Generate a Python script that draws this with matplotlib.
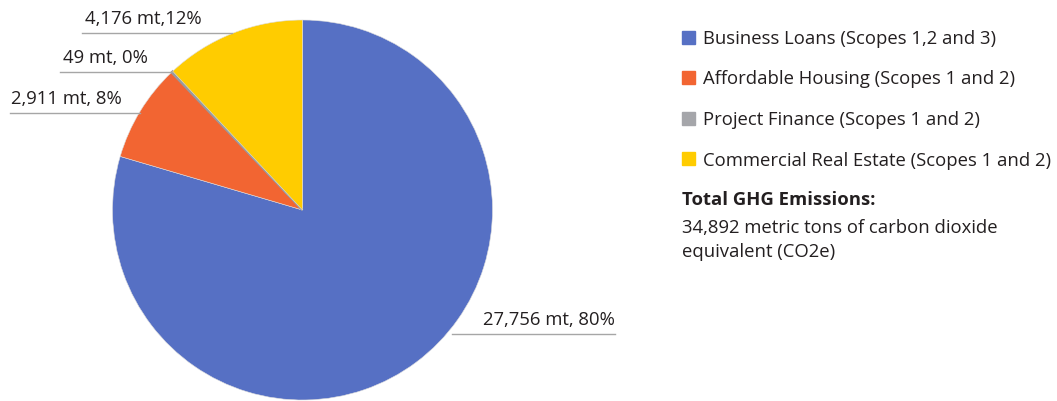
import matplotlib.pyplot as plt
from matplotlib.patches import Rectangle

# data
categories = ["Business Loans (Scopes 1,2 and 3)",
              "Affordable Housing (Scopes 1 and 2)",
              "Project Finance (Scopes 1 and 2)",
              "Commercial Real Estate (Scopes 1 and 2)"]
emissions_mt = [27756, 2911, 49, 4176]
slice_labels = ["27,756 mt, 80%", "2,911 mt, 8%", "49 mt, 0%", "4,176 mt,12%"]
colors = ["#5670C4", "#F26532", "#A5A6AA", "#FFCC00"]
total_text = "34,892 metric tons of carbon dioxide\nequivalent (CO2e)"

W, H = 1057, 401
plt.rcParams["font.family"] = ["Open Sans", "DejaVu Sans"]
TXT = "#231F20"
FS = 13.3

fig = plt.figure(figsize=(W / 100, H / 100), dpi=100)

# pie axes: centre (302.5, 210) px, radius 190 px
cx, cy, r = 302.5, 210, 190
ax = fig.add_axes([(cx - r) / W, (H - cy - r) / H, 2 * r / W, 2 * r / H])
wedges, _ = ax.pie(emissions_mt, colors=colors, startangle=90, counterclock=False,
                   radius=1, wedgeprops=dict(edgecolor="#DDDDDD", linewidth=0.4))
# the tiny project finance slice gets a thicker outline in its own colour
wedges[2].set_edgecolor("#999A9E")
wedges[2].set_linewidth(1.5)
ax.set_xlim(-1, 1)
ax.set_ylim(-1, 1)
ax.set_axis_off()


def px(x, y):
    return (x - cx) / r, (cy - y) / r


# leader lines: (line start x, line end x, line y, text right x) in px
leaders = [(452, 615, 334, 615),
           (10, 140, 113, 122),
           (60, 172, 72, 148),
           (82, 232, 33, 202)]
for lab, (x0, x1, ly, tx) in zip(slice_labels, leaders):
    ax.plot([px(x0, ly)[0], px(x1, ly)[0]], [px(x0, ly)[1]] * 2,
            color="#A6A6A6", lw=1, clip_on=False)
    ax.text(*px(tx, ly - 5), lab, ha="right", va="bottom", fontsize=FS,
            color=TXT, clip_on=False)

# legend
for i, (cat, col) in enumerate(zip(categories, colors)):
    yc = 37 + i * 40.5
    fig.patches.append(Rectangle((682 / W, 1 - (yc + 6.5) / H), 13 / W, 13 / H,
                                 transform=fig.transFigure, color=col))
    fig.text(703 / W, 1 - yc / H, cat, ha="left", va="center_baseline",
             fontsize=FS, color=TXT)

fig.text(682 / W, 1 - 198 / H, "Total GHG Emissions:", ha="left",
         va="center_baseline", fontsize=FS, fontweight="bold", color=TXT)
fig.text(682 / W, 1 - 226 / H, "34,892 metric tons of carbon dioxide",
         ha="left", va="center_baseline", fontsize=FS, color=TXT)
fig.text(682 / W, 1 - 250 / H, "equivalent (CO2e)",
         ha="left", va="center_baseline", fontsize=FS, color=TXT)

fig.savefig("out.png", dpi=100)
